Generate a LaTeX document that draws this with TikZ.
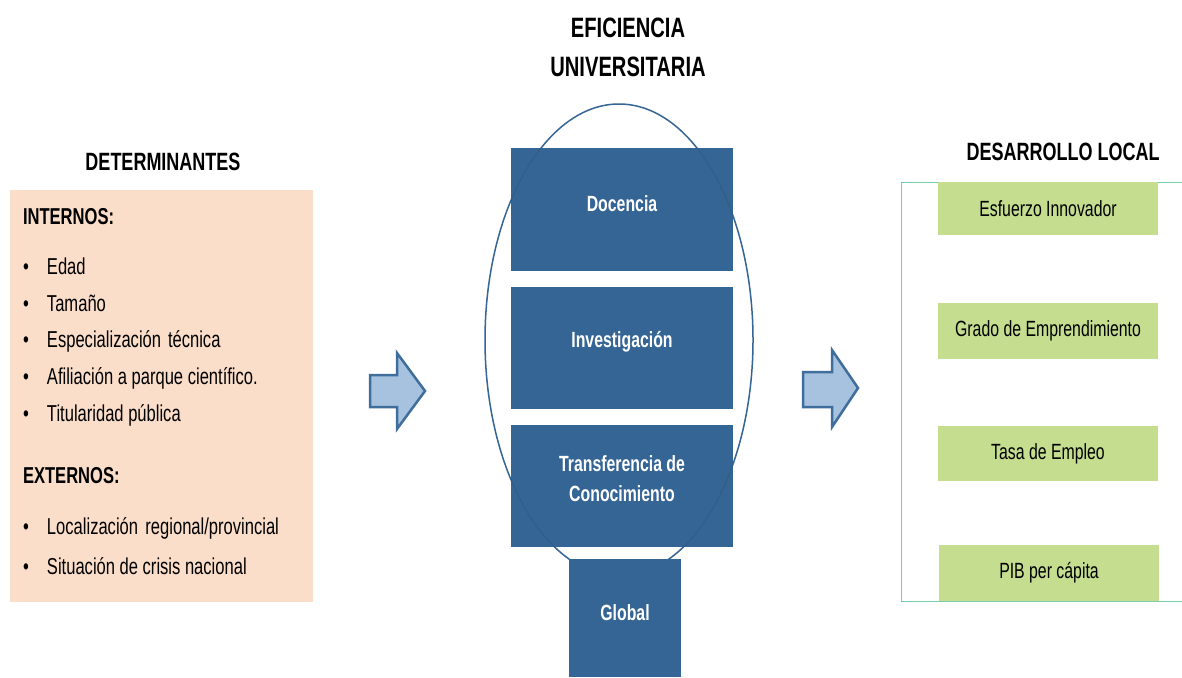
\documentclass[tikz,border=0pt]{standalone}
\usepackage{fontspec}
\setmainfont[FakeStretch=0.72]{Liberation Sans}
\usetikzlibrary{shapes.geometric}
\definecolor{peach}{RGB}{251,222,201}
\definecolor{uniblue}{RGB}{52,101,148}
\definecolor{arrowfill}{RGB}{166,194,222}
\definecolor{arrowline}{RGB}{64,110,156}
\definecolor{devgreen}{RGB}{196,221,143}
\definecolor{framecol}{RGB}{120,205,170}
\begin{document}
\begin{tikzpicture}[x=1pt,y=-1pt,
  every node/.style={inner sep=0pt, outer sep=0pt},
  titletext/.style={font=\fontsize{25}{28}\selectfont\bfseries, align=center},
  itemtext/.style={anchor=west, font=\fontsize{23}{26}\selectfont, text height=17pt, text depth=5pt},
  headtext/.style={anchor=west, font=\fontsize{23}{26}\selectfont\bfseries, text height=17pt, text depth=5pt},
  bluebox/.style={fill=uniblue, anchor=north west},
  bluelabel/.style={text=white, font=\fontsize{22}{30}\selectfont\bfseries, align=center},
  greenbox/.style={fill=devgreen, font=\fontsize{22}{26}\selectfont, anchor=north west, minimum width=220pt},
  blockarrow/.style={fill=arrowfill, draw=arrowline, line width=2.5pt, line join=miter}]
\useasboundingbox (0,0) rectangle (1182,677);
\fill[white] (0,0) rectangle (1182,677);
% ---------- left: determinantes ----------
\node[fill=peach, minimum width=303pt, minimum height=412pt, anchor=north west] (det) at (10,190) {};
\node[titletext] (dettitle) at (163,162) {DETERMINANTES};
\node[headtext] (internos) at (23,218) {INTERNOS:};
\node[itemtext] (i1) at (23,268) {\makebox[24pt][l]{•}Edad};
\node[itemtext] (i2) at (23,305) {\makebox[24pt][l]{•}Tamaño};
\node[itemtext] (i3) at (23,341) {\makebox[24pt][l]{•}Especialización\hspace{0.3em}técnica};
\node[itemtext] (i4) at (23,378) {\makebox[24pt][l]{•}Afiliación a parque científico.};
\node[itemtext] (i5) at (23,415) {\makebox[24pt][l]{•}Titularidad pública};
\node[headtext] (externos) at (23,477) {EXTERNOS:};
\node[itemtext] (e1) at (23,528) {\makebox[24pt][l]{•}Localización\hspace{0.32em}regional/provincial};
\node[itemtext] (e2) at (23,568) {\makebox[24pt][l]{•}Situación de crisis nacional};
% ---------- arrows ----------
\draw[blockarrow] (370,375) -- (397,375) -- (397,353) -- (425,391) -- (397,429) -- (397,407) -- (370,407) -- cycle;
\draw[blockarrow] (803,372) -- (832,372) -- (832,350) -- (858,388) -- (832,427) -- (832,407) -- (803,407) -- cycle;
% ---------- middle: eficiencia universitaria ----------
\node[font=\fontsize{28}{39}\selectfont\bfseries, align=center] (efftitle) at (628,47) {EFICIENCIA\\UNIVERSITARIA};
\node[ellipse, draw=uniblue, line width=1.5pt, minimum width=268pt, minimum height=472pt] (univ) at (619,340) {};
\node[bluebox, minimum width=222pt, minimum height=123pt] (doc) at (511,148) {};
\node[bluebox, minimum width=222pt, minimum height=122pt] (inv) at (511,287) {};
\node[bluebox, minimum width=222pt, minimum height=122pt] (trans) at (511,425) {};
\begin{scope}
  \clip (doc.north west) rectangle (trans.south east);
  \node[ellipse, draw=uniblue!70!black, opacity=0.22, line width=1.2pt, minimum width=268pt, minimum height=472pt] (univline) at (619,340) {};
\end{scope}
\node[bluebox, minimum width=112pt, minimum height=118pt] (glob) at (569,559) {};
\node[bluelabel] (doclab) at ([yshift=6pt]doc.center) {Docencia};
\node[bluelabel] (invlab) at ([yshift=6pt]inv.center) {Investigación};
\node[bluelabel] (translab) at ([yshift=7pt]trans.center) {Transferencia de\\Conocimiento};
\node[bluelabel] (globlab) at ([yshift=5pt]glob.center) {Global};
% ---------- right: desarrollo local ----------
\node[titletext] (devtitle) at (1063,152) {DESARROLLO LOCAL};
\draw[framecol, line width=1pt] (1182,182) -- (901,182) -- (901,601) -- (1182,601);
\node[greenbox, minimum height=53pt] (g1) at (938,182) {Esfuerzo Innovador};
\node[greenbox, minimum height=56pt] (g2) at (938,303) {Grado de Emprendimiento};
\node[greenbox, minimum height=55pt] (g3) at (938,426) {Tasa de Empleo};
\node[greenbox, minimum height=56pt] (g4) at (939,545) {PIB per cápita};
\end{tikzpicture}
\end{document}
